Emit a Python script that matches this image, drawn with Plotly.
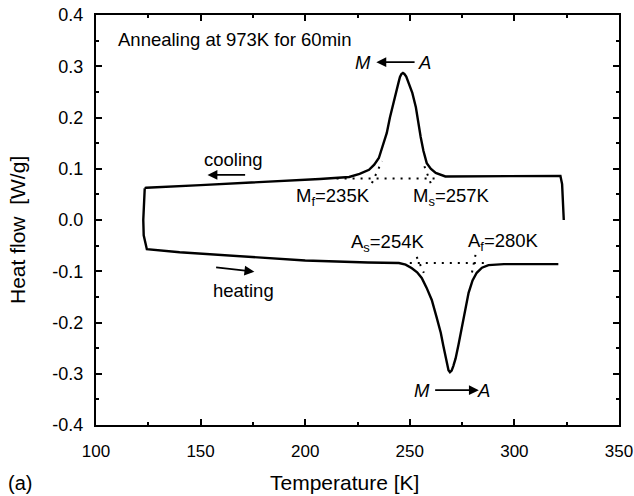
import plotly.graph_objects as go

# Cooling curve (upper branch), temperature [K] and heat flow [W/g]
cool_T = [323.6, 323.3, 322.8, 322.0, 316, 300, 280, 267, 262.4, 260, 258.1, 256.5, 255.2, 254,
          252.9, 251.2, 249.5, 248.3, 247.4, 246.7, 246.0, 245.3, 244.6, 243.5, 242.4, 240.5,
          239, 237, 235.2, 233, 230.5, 226, 221, 207, 180, 150, 124, 123.3]
cool_Q = [0.0, 0.03, 0.07, 0.086, 0.086, 0.086, 0.086, 0.085, 0.092, 0.100, 0.111, 0.135, 0.162,
          0.190, 0.220, 0.248, 0.269, 0.280, 0.285, 0.287, 0.285, 0.279, 0.268, 0.250, 0.228,
          0.200, 0.170, 0.143, 0.121, 0.108, 0.098, 0.090, 0.084, 0.080, 0.074, 0.068, 0.063,
          0.062]

# Heating curve (lower branch)
heat_T = [123.3, 122.8, 122.6, 122.8, 124.3, 140, 170, 200, 230, 244.8, 248, 251, 253.5, 255.7,
          258, 260.5, 262.7, 264.8, 266, 267, 267.8, 268.5, 269.2, 270.0, 270.8, 271.9, 273.3,
          274.8, 276.5, 278.1, 280, 282, 284.5, 287.6, 295, 310, 321]
heat_Q = [0.062, 0.03, 0.0, -0.03, -0.057, -0.063, -0.071, -0.079, -0.083, -0.084, -0.087,
          -0.094, -0.102, -0.113, -0.132, -0.156, -0.188, -0.220, -0.245, -0.267, -0.283,
          -0.293, -0.297, -0.294, -0.285, -0.270, -0.243, -0.209, -0.175, -0.142, -0.118,
          -0.103, -0.093, -0.088, -0.086, -0.086, -0.086]

# Dotted construction lines (baseline + tangents)
dot_lines = {
    "cool_base": ([215, 262], [0.081, 0.081]),
    "Mf_tan": ([231.9, 236.7], [0.072, 0.115]),
    "Ms_tan": ([260.0, 256.7], [0.072, 0.108]),
    "heat_base": ([250, 286], [-0.084, -0.084]),
    "As_tan": ([253.3, 256.7], [-0.072, -0.103]),
    "Af_tan": ([281.4, 279.5], [-0.068, -0.107]),
}

x_ticks = [100, 150, 200, 250, 300, 350]
x_ticktext = ["100", "150", "200", "250", "300", "350"]
y_ticks = [-0.4, -0.3, -0.2, -0.1, 0.0, 0.1, 0.2, 0.3, 0.4]
y_ticktext = ["-0.4", "-0.3", "-0.2", "-0.1", "0.0", "0.1", "0.2", "0.3", "0.4"]

FONT = "Liberation Sans, Arial, sans-serif"
FS = 18
L, R, T, B = 96, 15, 15, 71
PW, PH = 634 - L - R, 496 - T - B

fig = go.Figure()
fig.add_trace(go.Scatter(x=cool_T, y=cool_Q, mode="lines",
                         line=dict(color="black", width=2.4), showlegend=False))
fig.add_trace(go.Scatter(x=heat_T, y=heat_Q, mode="lines",
                         line=dict(color="black", width=2.4), showlegend=False))
for name, (xs, ys) in dot_lines.items():
    fig.add_trace(go.Scatter(x=xs, y=ys, mode="lines",
                             line=dict(color="black", width=2, dash="2px,6px"), showlegend=False))

ann = []
def txt(x, y, s, xanchor="left", size=18.5):
    ann.append(dict(x=x, y=y, xref="x", yref="y", text=s, showarrow=False,
                    xanchor=xanchor, yanchor="middle", font=dict(family=FONT, size=size, color="black")))

def arrow(x0, y0, x1, y1):
    ann.append(dict(x=x1, y=y1, ax=x0, ay=y0, xref="x", yref="y", axref="x", ayref="y",
                    text="", showarrow=True, arrowhead=2, arrowsize=1.1, arrowwidth=1.8,
                    arrowcolor="black"))

txt(109.5, 0.353, "Annealing at 973K for 60min")
txt(227.5, 0.308, "<i>M</i>", xanchor="center")
txt(257, 0.308, "<i>A</i>", xanchor="center")
arrow(253, 0.308, 234, 0.308)
txt(256, -0.332, "<i>M</i>", xanchor="center")
txt(285, -0.332, "<i>A</i>", xanchor="center")
arrow(261.4, -0.332, 283, -0.332)
txt(194.8, 0.045, "M<sub>f</sub>=235K")
txt(250.5, 0.045, "M<sub>s</sub>=257K")
txt(221, -0.045, "A<sub>s</sub>=254K")
txt(276.7, -0.043, "A<sub>f</sub>=280K")
txt(150.5, 0.119, "cooling")
arrow(172, 0.088, 153.3, 0.088)
txt(155, -0.137, "heating")
arrow(156.7, -0.092, 175.7, -0.101)

# axis titles and panel label (paper coordinates relative to the plot area)
ann.append(dict(x=(344 - L) / PW, y=(496 - B - 482) / PH, xref="paper", yref="paper",
                text="Temperature [K]", showarrow=False, xanchor="center", yanchor="middle",
                font=dict(family=FONT, size=21, color="black")))
ann.append(dict(x=(17 - L) / PW, y=(496 - B - 230) / PH, xref="paper", yref="paper",
                text="Heat flow  [W/g]", showarrow=False, xanchor="center", yanchor="middle",
                textangle=-90, font=dict(family=FONT, size=21, color="black")))
ann.append(dict(x=(6 - L) / PW, y=(496 - B - 483) / PH, xref="paper", yref="paper",
                text="(a)", showarrow=False, xanchor="left", yanchor="middle",
                font=dict(family=FONT, size=20, color="black")))

fig.update_layout(
    width=634, height=496,
    margin=dict(l=L, r=R, t=T, b=B),
    paper_bgcolor="white", plot_bgcolor="white",
    annotations=ann,
    font=dict(family=FONT, size=FS, color="black"),
)
fig.update_xaxes(range=[100, 350], tickvals=x_ticks, ticktext=x_ticktext,
                 ticks="inside", ticklen=6, tickwidth=2, tickcolor="black",
                 showline=True, linewidth=2, linecolor="black", mirror="allticks",
                 showgrid=False, zeroline=False, ticklabelstandoff=10,
                 ticklabeloverflow="allow", automargin=False,
                 minor=dict(dtick=25, ticks="inside", ticklen=3, tickwidth=2, tickcolor="black"),
                 tickfont=dict(family=FONT, size=17))
fig.update_yaxes(range=[-0.4, 0.4], tickvals=y_ticks, ticktext=y_ticktext,
                 ticks="inside", ticklen=6, tickwidth=2, tickcolor="black",
                 showline=True, linewidth=2, linecolor="black", mirror="allticks",
                 showgrid=False, zeroline=False, ticklabelstandoff=7, automargin=False,
                 minor=dict(dtick=0.05, tick0=0, ticks="inside", ticklen=3, tickwidth=2, tickcolor="black"),
                 tickfont=dict(family=FONT, size=FS))

fig.write_html("out.html")
